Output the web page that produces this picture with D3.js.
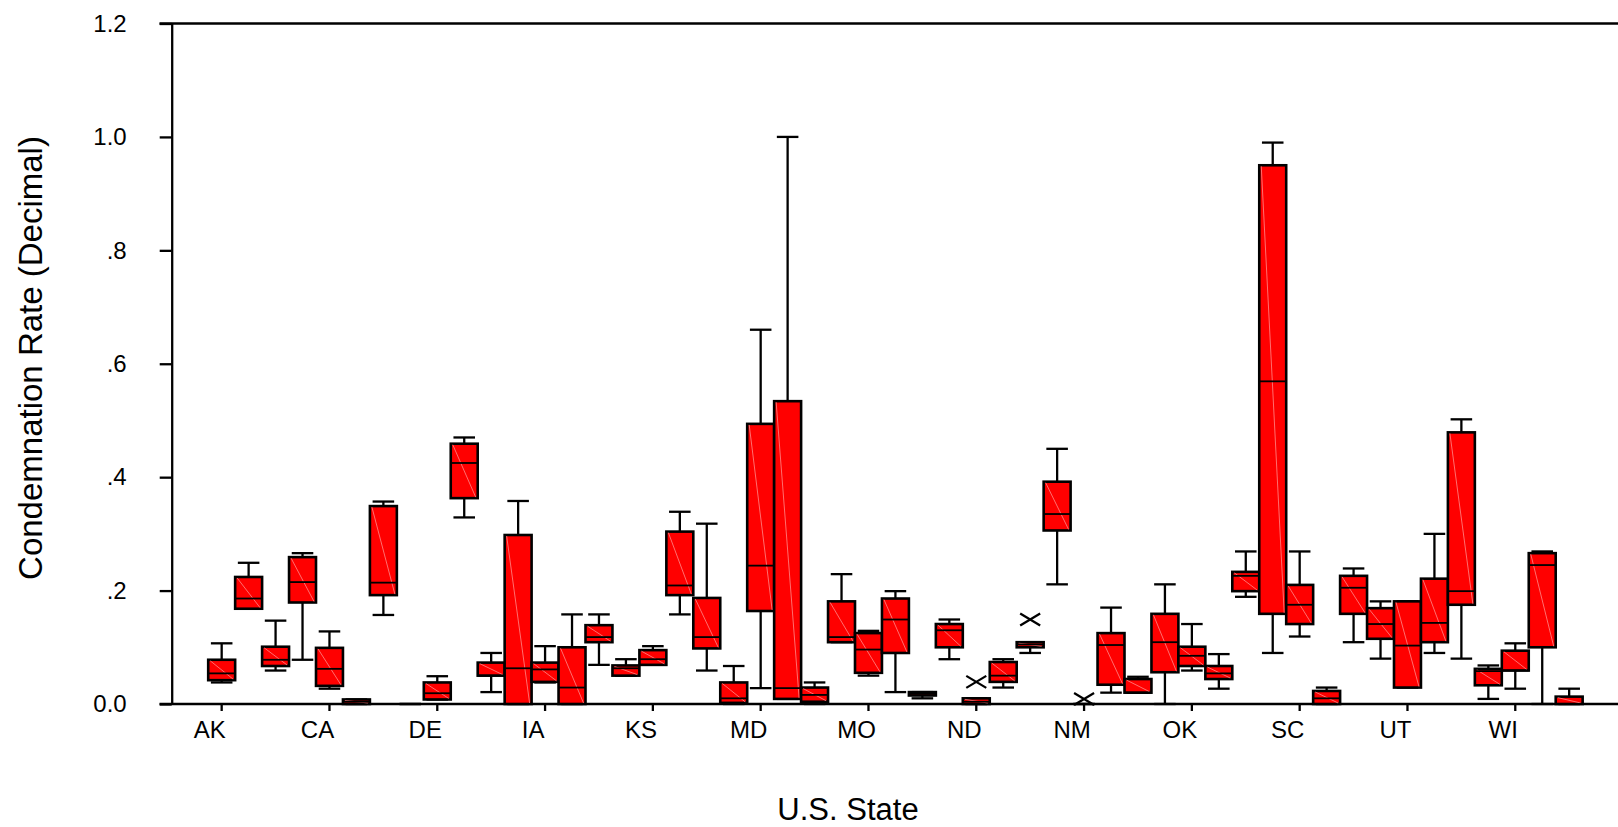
<!DOCTYPE html>
<html>
<head>
<meta charset="utf-8">
<script src="https://cdn.jsdelivr.net/npm/d3@7"></script>
<style>
  body { margin: 0; background: #fff; }
  text { font-family: "Liberation Sans", Arial, sans-serif; fill: #000; }
</style>
</head>
<body>
<svg id="chart" width="1618" height="827"></svg>
<script>
// states along the x axis (every 4th one is labelled)
var states = ["AK","AL","AR","AZ","CA","CO","CT","DC","DE","FL","GA","HI","IA","ID","IL","IN","KS",
  "KY","LA","MA","MD","ME","MI","MN","MO","MS","MT","NC","ND","NE","NH","NJ","NM","NV","NY","OH",
  "OK","OR","PA","RI","SC","SD","TN","TX","UT","VA","VT","WA","WI","WV","WY"];

// box plot statistics, one value per state
var lowWhisker = [0.038,0.168,0.059,0.078,0.027,0,0.157,0,0.008,0.329,0.021,0,0.038,0,0.069,0.050,0.069,
  0.158,0.059,0,0.028,0.009,0,0.109,0.050,0.021,0.010,0.079,0,0.029,0.090,0.211,0,0.020,0.020,0,
  0.059,0.027,0.189,0.090,0.119,0,0.109,0.080,0.029,0.090,0.080,0.009,0.027,0,0];
var q1 = [0.042,0.168,0.067,0.179,0.032,0,0.192,0,0.008,0.363,0.050,0,0.039,0,0.109,0.050,0.069,
  0.192,0.098,0.002,0.164,0.009,0.004,0.109,0.055,0.090,0.015,0.100,0,0.039,0.100,0.306,0,0.034,0.020,0.056,
  0.067,0.044,0.199,0.159,0.141,0,0.159,0.115,0.029,0.109,0.175,0.033,0.059,0.100,0];
var median = [0.054,0.186,0.078,0.215,0.062,0.004,0.214,0,0.019,0.425,0.050,0.063,0.061,0.029,0.118,0.063,0.079,
  0.209,0.118,0.010,0.244,0.028,0.016,0.118,0.096,0.149,0.018,0.130,0.004,0.050,0.105,0.335,0,0.104,0.020,0.109,
  0.085,0.054,0.226,0.569,0.175,0.010,0.205,0.141,0.103,0.143,0.199,0.058,0.059,0.245,0];
var q3 = [0.078,0.224,0.101,0.259,0.099,0.008,0.349,0,0.038,0.459,0.073,0.298,0.073,0.100,0.139,0.068,0.095,
  0.304,0.187,0.038,0.494,0.534,0.029,0.181,0.125,0.186,0.021,0.141,0.010,0.074,0.109,0.392,0,0.125,0.044,0.159,
  0.101,0.067,0.233,0.950,0.210,0.023,0.226,0.169,0.181,0.221,0.479,0.062,0.094,0.266,0.013];
var highWhisker = [0.107,0.249,0.147,0.266,0.128,0.008,0.357,0,0.049,0.470,0.090,0.358,0.102,0.158,0.158,0.079,0.102,
  0.339,0.318,0.067,0.660,1.000,0.038,0.229,0.129,0.199,0.021,0.149,0.010,0.079,0.109,0.450,0,0.170,0.048,0.211,
  0.141,0.088,0.269,0.990,0.269,0.029,0.239,0.181,0.181,0.300,0.502,0.068,0.107,0.269,0.027];

// extreme values drawn as crosses
var outlierStates = ["ND","NH","NM"];
var outlierValues = [0.039,0.149,0.009];

var yTicks = [0, 0.2, 0.4, 0.6, 0.8, 1.0, 1.2];
var yTickLabels = ["0.0", ".2", ".4", ".6", ".8", "1.0", "1.2"];

var svg = d3.select("#chart");
var axisX = 171.7, rightEdge = 1618;
var sw = 2.3;

var x = d3.scaleBand().domain(states).range([208.2, 208.2 + 26.95 * states.length]).padding(0);
var y = d3.scaleLinear().domain([0, 1.2]).range([704, 23.5]);
var bw = x.bandwidth();
var capW = bw * 0.8;

var boxes = states.map(function(s, i) {
  return {state: s, lo: lowWhisker[i], q1: q1[i], med: median[i], q3: q3[i], hi: highWhisker[i]};
});

// frame lines
svg.append("line").attr("x1", 159.5).attr("x2", rightEdge).attr("y1", y(1.2)).attr("y2", y(1.2))
  .attr("stroke", "#000").attr("stroke-width", sw);
svg.append("line").attr("x1", 159.5).attr("x2", rightEdge).attr("y1", y(0)).attr("y2", y(0))
  .attr("stroke", "#000").attr("stroke-width", sw);

// y axis
var gy = svg.append("g").attr("transform", "translate(" + axisX + ",0)")
  .call(d3.axisLeft(y).tickValues(yTicks).tickSize(12).tickSizeOuter(0).tickPadding(33)
    .tickFormat(function(d, i) { return yTickLabels[i]; }));
gy.select(".domain").attr("stroke-width", sw);
gy.selectAll(".tick line").attr("stroke-width", sw);
gy.selectAll("text").attr("font-size", 24).attr("font-family", "Liberation Sans, Arial, sans-serif");

// x axis
var gx = svg.append("g").attr("transform", "translate(0," + y(0) + ")")
  .call(d3.axisBottom(x).tickValues(states.filter(function(d, i) { return i % 4 === 0; }))
    .tickSize(7).tickSizeOuter(0).tickPadding(10));
gx.select(".domain").remove();
gx.selectAll(".tick line").attr("stroke-width", sw);
gx.selectAll("text").attr("font-size", 24).attr("dx", -12)
  .attr("font-family", "Liberation Sans, Arial, sans-serif");

// whiskers
var g = svg.append("g");
var wh = g.selectAll("g.whisker").data(boxes).enter().append("g").attr("class", "whisker");
wh.append("line")
  .attr("x1", d => x(d.state) + bw / 2).attr("x2", d => x(d.state) + bw / 2)
  .attr("y1", d => y(d.hi)).attr("y2", d => y(d.lo))
  .attr("stroke", "#000").attr("stroke-width", sw);
wh.append("line")
  .attr("x1", d => x(d.state) + bw / 2 - capW / 2).attr("x2", d => x(d.state) + bw / 2 + capW / 2)
  .attr("y1", d => y(d.hi)).attr("y2", d => y(d.hi))
  .attr("stroke", "#000").attr("stroke-width", sw);
wh.append("line")
  .attr("x1", d => x(d.state) + bw / 2 - capW / 2).attr("x2", d => x(d.state) + bw / 2 + capW / 2)
  .attr("y1", d => y(d.lo)).attr("y2", d => y(d.lo))
  .attr("stroke", "#000").attr("stroke-width", sw);

// boxes
var bx = g.selectAll("g.box").data(boxes).enter().append("g").attr("class", "box");
bx.append("rect")
  .attr("x", d => x(d.state)).attr("width", bw)
  .attr("y", d => y(d.q3)).attr("height", d => y(d.q1) - y(d.q3))
  .attr("fill", "#ff0000").attr("stroke", "#000").attr("stroke-width", sw + 0.3);
bx.append("line")
  .attr("x1", d => x(d.state) + 2).attr("x2", d => x(d.state) + bw - 2)
  .attr("y1", d => y(d.q3) + 1).attr("y2", d => y(d.q1) - 1)
  .attr("stroke", "#ff9a9a").attr("stroke-width", 0.8)
  .attr("opacity", d => (y(d.q1) - y(d.q3)) > 4 ? 0.9 : 0);
bx.append("line")
  .attr("x1", d => x(d.state)).attr("x2", d => x(d.state) + bw)
  .attr("y1", d => y(d.med)).attr("y2", d => y(d.med))
  .attr("stroke", "#000").attr("stroke-width", 1.8);

// outliers
outlierStates.forEach(function(s, i) {
  var cx = x(s) + bw / 2, cy = y(outlierValues[i]);
  svg.append("path")
    .attr("d", "M" + (cx - 10) + "," + (cy - 6) + "L" + (cx + 10) + "," + (cy + 6) +
      "M" + (cx - 10) + "," + (cy + 6) + "L" + (cx + 10) + "," + (cy - 6))
    .attr("stroke", "#000").attr("stroke-width", sw).attr("fill", "none");
});

// titles
svg.append("text").attr("x", 848).attr("y", 820).attr("text-anchor", "middle")
  .attr("font-size", 31).text("U.S. State");
svg.append("text").attr("transform", "translate(42,358) rotate(-90)").attr("text-anchor", "middle")
  .attr("font-size", 33).text("Condemnation Rate (Decimal)");
</script>
</body>
</html>
